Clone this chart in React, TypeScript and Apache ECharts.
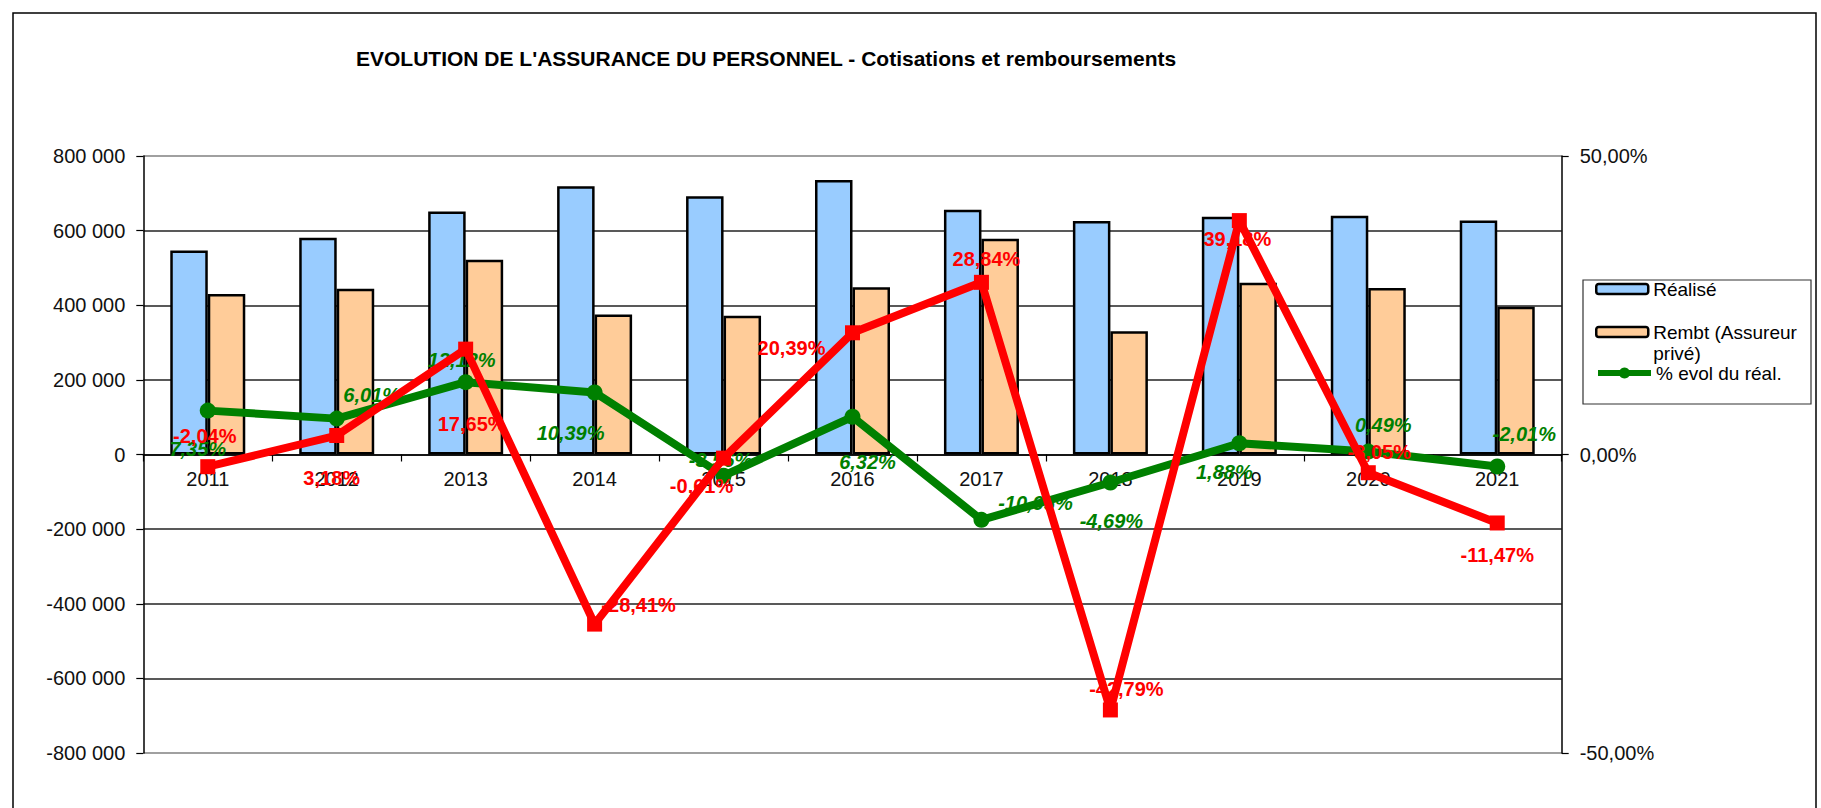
import React, { useEffect, useRef } from "react";
import * as echarts from "echarts";

const years = ["2011", "2012", "2013", "2014", "2015", "2016", "2017", "2018", "2019", "2020", "2021"];
const realise = [547000, 581000, 651000, 719000, 692000, 736000, 656000, 626000, 637000, 640000, 627000];
const rembt = [430000, 444000, 522000, 375000, 372000, 448000, 578000, 330000, 460000, 446000, 396000];
const evolRealise = [7.35, 6.01, 12.12, 10.39, -3.56, 6.32, -10.95, -4.69, 1.88, 0.49, -2.01];
const evolRembt = [-2.04, 3.18, 17.65, -28.41, -0.61, 20.39, 28.84, -42.79, 39.18, -3.05, -11.47];
const leftTicks = { min: -800000, max: 800000, interval: 200000 };
const rightTicks = { min: -50, max: 50, interval: 50 };

// label offsets (style only)
const greenOffsets = [[-10, 38], [35, -24], [-4, -22], [-24, 41], [-3, -16], [15, 45], [54, -17], [1, 39], [-15, 29], [15, -27], [27, -32]];
const redOffsets = [[-3, -31], [-5, 42], [6, 75], [44, -19], [-22, 28], [-61, 15], [5, -23], [16, -21], [-2, 18], [11, -21], [0, 32]];

const FONT = '"Liberation Sans", Arial, sans-serif';

const fmtThousands = (v: number) => {
  const s = Math.abs(v).toString().replace(/\B(?=(\d{3})+(?!\d))/g, " ");
  return (v < 0 ? "-" : "") + s;
};
const fmtPct = (v: number) => v.toFixed(2).replace(".", ",") + "%";

const NAME_R = "Réalisé";
const NAME_B = "Rembt (Assureur privé)";
const NAME_G = "% evol du réal.";
const NAME_RED = "% evol du rembt";

const GRID_TOP = 156;
const GRID_BOTTOM = 55;
const H = 808;

export default function App() {
  const ref = useRef<HTMLDivElement>(null);
  useEffect(() => {
    if (!ref.current) return;
    const chart = echarts.init(ref.current, undefined, { renderer: "svg" });
    const legendText = { fontSize: 19, lineHeight: 21, color: "#000", fontFamily: FONT };
    // x axis sits on the zero of the left axis
    const gridH = H - GRID_TOP - GRID_BOTTOM;
    const zeroOffset = -gridH * (0 - leftTicks.min) / (leftTicks.max - leftTicks.min);
    const option: any = {
      animation: false,
      backgroundColor: "#fff",
      title: {
        text: "EVOLUTION DE L'ASSURANCE DU PERSONNEL - Cotisations et remboursements",
        left: 356,
        top: 48,
        padding: 0,
        textStyle: { fontSize: 21, fontWeight: "bold", color: "#000", fontFamily: FONT },
      },
      graphic: [
        {
          type: "rect",
          z: 0,
          shape: { x: 13, y: 13, width: 1803, height: 830 },
          style: { fill: "none", stroke: "#000", lineWidth: 1.5 },
          silent: true,
        },
        {
          type: "rect",
          z: 0,
          shape: { x: 1583, y: 280, width: 228, height: 124 },
          style: { fill: "#fff", stroke: "#333", lineWidth: 1.2 },
          silent: true,
        },
      ],
      legend: [
        {
          data: [NAME_R],
          orient: "vertical",
          left: 1595,
          top: 278.5,
          padding: 0,
          itemWidth: 52,
          itemHeight: 10,
          itemStyle: { borderColor: "#000", borderWidth: 2.5 },
          textStyle: legendText,
          selectedMode: false,
        },
        {
          data: [NAME_B],
          orient: "vertical",
          left: 1595,
          top: 300.5,
          padding: 0,
          itemWidth: 52,
          itemHeight: 10,
          itemStyle: { borderColor: "#000", borderWidth: 2.5 },
          formatter: () => "\nRembt (Assureur\nprivé)",
          textStyle: legendText,
          selectedMode: false,
        },
        {
          data: [NAME_G],
          orient: "vertical",
          left: 1595,
          top: 362.5,
          padding: 0,
          itemWidth: 53,
          itemHeight: 14,
          lineStyle: { width: 6 },
          textStyle: legendText,
          selectedMode: false,
        },
      ],
      grid: { left: 143.3, right: 259.3, top: GRID_TOP, bottom: GRID_BOTTOM, containLabel: false },
      xAxis: {
        type: "category",
        data: years,
        position: "bottom",
        offset: zeroOffset,
        axisLine: { show: true, onZero: false, lineStyle: { color: "#000", width: 1.5 } },
        axisTick: { show: true, length: 7, lineStyle: { color: "#000", width: 1.2 } },
        axisLabel: { margin: 14, fontSize: 20, color: "#111", fontFamily: FONT },
        splitLine: { show: false },
      },
      yAxis: [
        {
          type: "value",
          ...leftTicks,
          axisLine: { show: true, onZero: false, lineStyle: { color: "#000", width: 1.5 } },
          axisTick: { show: true, length: 7, lineStyle: { color: "#000", width: 1.2 } },
          axisLabel: { margin: 18, fontSize: 20, color: "#111", fontFamily: FONT, formatter: fmtThousands },
          splitLine: {
            show: true,
            lineStyle: {
              color: ["#808080", "#222", "#222", "#222", "#222", "#222", "#222", "#222", "#808080"],
              width: 1.5,
            },
          },
        },
        {
          type: "value",
          position: "right",
          ...rightTicks,
          axisLine: { show: true, onZero: false, lineStyle: { color: "#000", width: 1.5 } },
          axisTick: { show: true, length: 7, lineStyle: { color: "#000", width: 1.2 } },
          axisLabel: { margin: 18, fontSize: 20, color: "#111", fontFamily: FONT, formatter: (v: number) => fmtPct(v) },
          splitLine: { show: false },
        },
      ],
      series: [
        {
          name: NAME_R,
          type: "bar",
          data: realise,
          barWidth: 37.5,
          barGap: "0%",
          itemStyle: { color: "#99CCFF", borderColor: "#000", borderWidth: 2.5 },
        },
        {
          name: NAME_B,
          type: "bar",
          data: rembt,
          barWidth: 37.5,
          barGap: "0%",
          itemStyle: { color: "#FFCC99", borderColor: "#000", borderWidth: 2.5 },
        },
        {
          name: NAME_G,
          type: "line",
          yAxisIndex: 1,
          data: evolRealise.map((v, i) => ({ value: v, label: { offset: greenOffsets[i] } })),
          symbol: "circle",
          symbolSize: 16,
          lineStyle: { color: "#008000", width: 8 },
          itemStyle: { color: "#008000" },
          label: {
            show: true,
            position: "inside",
            align: "center",
            verticalAlign: "middle",
            formatter: (p: any) => fmtPct(p.value),
            fontSize: 20,
            fontWeight: "bold",
            fontStyle: "italic",
            color: "#008000",
            fontFamily: FONT,
          },
          z: 3,
        },
        {
          name: NAME_RED,
          type: "line",
          yAxisIndex: 1,
          data: evolRembt.map((v, i) => ({ value: v, label: { offset: redOffsets[i] } })),
          symbol: "rect",
          symbolSize: 15,
          lineStyle: { color: "#FF0000", width: 8 },
          itemStyle: { color: "#FF0000" },
          label: {
            show: true,
            position: "inside",
            align: "center",
            verticalAlign: "middle",
            formatter: (p: any) => fmtPct(p.value),
            fontSize: 20,
            fontWeight: "bold",
            color: "#FF0000",
            fontFamily: FONT,
          },
          z: 4,
        },
      ],
    };
    chart.setOption(option);
    return () => chart.dispose();
  }, []);
  return (
    <div
      ref={ref}
      style={{ position: "absolute", left: 0, top: 0, width: 1821, height: 808 }}
    />
  );
}
